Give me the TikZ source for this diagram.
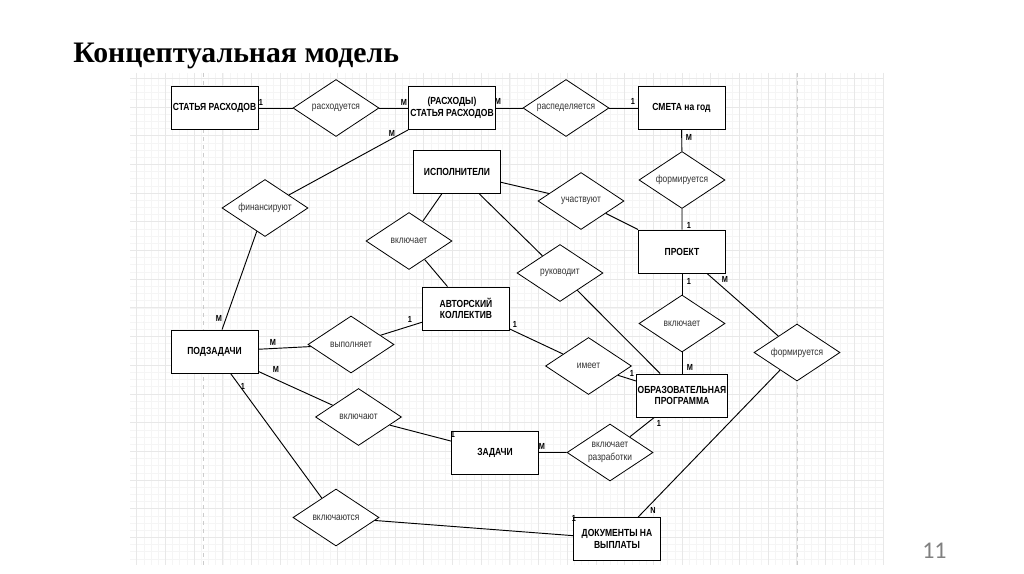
\documentclass[tikz,border=0pt]{standalone}
\usepackage{fontspec}
\setmainfont{Liberation Serif}
\newfontfamily\erfont[FakeStretch=0.83]{Liberation Sans}
\newfontfamily\numfont{Carlito}
\usetikzlibrary{shapes.geometric}

\begin{document}
\begin{tikzpicture}[x=0.75pt, y=-0.75pt,
    entity/.style={rectangle, draw, fill=white, line width=0.7pt, minimum width=65.25pt, minimum height=32.25pt, inner sep=1pt, align=center, font=\erfont\bfseries\fontsize{7.7}{8.8}\selectfont},
    relation/.style={diamond, draw, fill=white, line width=0.6pt, minimum width=64.5pt, minimum height=42.75pt, inner sep=0pt, aspect=1.5, align=center, text=black!80, font=\erfont\fontsize{7.6}{9.6}\selectfont},
    card/.style={inner sep=0pt, font=\erfont\bfseries\fontsize{6.6}{7}\selectfont},
    link/.style={line width=0.7pt},
    minorgrid/.style={draw=black!4, line width=0.4pt},
    majorgrid/.style={draw=black!9, line width=0.5pt}]
    \useasboundingbox (0,0) rectangle (1024,574);

    % Title and page number
    \node[anchor=base west, inner sep=0pt, font=\bfseries\fontsize{22.3}{26}\selectfont] (title) at (73,63) {Концептуальная модель};
    \node[anchor=base west, inner sep=0pt, text=black!50, font=\numfont\fontsize{18}{20}\selectfont] (page) at (922,558) {11};

    % Grid paper
    \foreach \k in {-76,...,28} \draw[minorgrid] ({682+7.175*(\k)},73) -- ({682+7.175*(\k)},565);
    \foreach \k in {-56,...,11} \draw[minorgrid] (130,{480+7.175*(\k)}) -- (884,{480+7.175*(\k)});
    \foreach \k in {-19,...,7} \draw[majorgrid] ({682+28.7*(\k)},73) -- ({682+28.7*(\k)},565);
    \foreach \k in {-14,...,2} \draw[majorgrid] (130,{480+28.7*(\k)}) -- (884,{480+28.7*(\k)});
    \draw[dashed, black!20, line width=0.6pt] (203,73) -- (203,565);
    \draw[dashed, black!20, line width=0.6pt] (797,73) -- (797,565);

    % Entities
    \node[entity] (st1) at (214.5,108) {СТАТЬЯ РАСХОДОВ};
    \node[entity] (st2) at (452,108) {(РАСХОДЫ)\\СТАТЬЯ РАСХОДОВ};
    \node[entity] (smeta) at (681.5,108) {СМЕТА на год};
    \node[entity] (isp) at (457,172) {ИСПОЛНИТЕЛИ};
    \node[entity] (proj) at (682,251.5) {ПРОЕКТ};
    \node[entity] (avt) at (466,308.5) {АВТОРСКИЙ\\КОЛЛЕКТИВ};
    \node[entity] (podz) at (214.5,351.5) {ПОДЗАДАЧИ};
    \node[entity] (obr) at (682,395.5) {ОБРАЗОВАТЕЛЬНАЯ\\ПРОГРАММА};
    \node[entity] (zad) at (495,452.5) {ЗАДАЧИ};
    \node[entity] (dok) at (617,539) {ДОКУМЕНТЫ НА\\ВЫПЛАТЫ};

    % Relations
    \node[relation] (rash) at (336,108) {расходуется};
    \node[relation] (rasp) at (566,108) {распеделяется};
    \node[relation] (form1) at (682,180) {формируется};
    \node[relation] (fin) at (265,208) {финансируют};
    \node[relation] (uch) at (581,201) {участвуют};
    \node[relation] (vkl1) at (409,241) {включает};
    \node[relation] (ruk) at (560,273) {руководит};
    \node[relation] (vkl2) at (682,323.5) {включает};
    \node[relation] (vyp) at (351,344.5) {выполняет};
    \node[relation] (form2) at (797,352.5) {формируется};
    \node[relation] (imeet) at (588.5,366) {имеет};
    \node[relation] (vklt) at (358.5,417) {включают};
    \node[relation] (razr) at (610,452.5) {включает\\разработки};
    \node[relation] (vklts) at (336,517.5) {включаются};

    % Links
    \draw[link] (st1) -- (rash) -- (st2) -- (rasp) -- (smeta);
    \draw[link] (smeta) -- (form1) -- (proj);
    \draw[link] (st2.south west) -- (fin) -- (podz.71);
    \draw[link] (isp) -- (vkl1) -- (avt);
    \draw[link] (isp) -- (uch) -- (proj);
    \draw[link] (isp) -- (ruk) -- (obr);
    \draw[link] (avt) -- (imeet) -- (obr);
    \draw[link] (proj) -- (vkl2) -- (obr);
    \draw[link] (proj) -- (form2) -- (dok);
    \draw[link] (podz) -- (vyp) -- (avt);
    \draw[link] (podz) -- (vklt) -- (zad);
    \draw[link] (podz) -- (vklts) -- (dok);
    \draw[link] (zad) -- (razr) -- (obr);

    % Cardinalities
    \node[card] (c1) at (261,102) {1};
    \node[card] (c2) at (404,102) {M};
    \node[card] (c3) at (498,101) {M};
    \node[card] (c4) at (633,101) {1};
    \node[card] (c5) at (689,137) {M};
    \node[card] (c6) at (689,225) {1};
    \node[card] (c7) at (392,133) {M};
    \node[card] (c8) at (219,318) {M};
    \node[card] (c9) at (273,342) {M};
    \node[card] (c10) at (410,319) {1};
    \node[card] (c11) at (276,369) {M};
    \node[card] (c12) at (243,386) {1};
    \node[card] (c13) at (689,281) {1};
    \node[card] (c14) at (725,279) {M};
    \node[card] (c15) at (515,324) {1};
    \node[card] (c16) at (632,373) {1};
    \node[card] (c17) at (690,367) {M};
    \node[card] (c18) at (453,434) {1};
    \node[card] (c19) at (659,423) {1};
    \node[card] (c20) at (542,446) {M};
    \node[card] (c21) at (653,510) {N};
    \node[card] (c22) at (574,518) {1};
\end{tikzpicture}
\end{document}
